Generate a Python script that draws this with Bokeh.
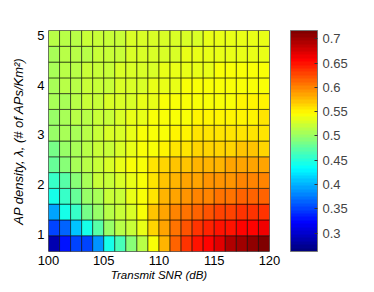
import numpy as np
from bokeh.plotting import figure
from bokeh.models import (LinearColorMapper, ColorBar, FixedTicker, ColumnDataSource, Range1d)
from bokeh.embed import file_html
from bokeh.resources import INLINE

# ---- data ----
snr_edges = [100, 101, 102, 103, 104, 105, 106, 107, 108, 109, 110,
             111, 112, 113, 114, 115, 116, 117, 118, 119, 120]
density_edges = [0.65, 0.968, 1.286, 1.604, 1.921, 2.239, 2.557, 2.875,
                 3.193, 3.511, 3.829, 4.146, 4.464, 4.782, 5.10]

# rows from bottom (low density) to top (high density); 20 SNR columns each
row_00 = [0.290, 0.326, 0.348, 0.352, 0.387, 0.440, 0.467, 0.495, 0.512, 0.542,
          0.576, 0.615, 0.637, 0.649, 0.660, 0.674, 0.690, 0.699, 0.704, 0.715]
row_01 = [0.350, 0.362, 0.410, 0.440, 0.470, 0.500, 0.517, 0.525, 0.537, 0.562,
          0.585, 0.608, 0.624, 0.632, 0.644, 0.648, 0.652, 0.656, 0.659, 0.662]
row_02 = [0.393, 0.440, 0.460, 0.485, 0.500, 0.514, 0.524, 0.530, 0.542, 0.569,
          0.585, 0.600, 0.608, 0.615, 0.620, 0.625, 0.628, 0.632, 0.635, 0.637]
row_03 = [0.440, 0.460, 0.480, 0.500, 0.510, 0.518, 0.525, 0.535, 0.543, 0.560,
          0.575, 0.585, 0.592, 0.600, 0.603, 0.606, 0.610, 0.613, 0.615, 0.617]
row_04 = [0.455, 0.475, 0.495, 0.510, 0.518, 0.524, 0.530, 0.537, 0.546, 0.558,
          0.568, 0.575, 0.582, 0.587, 0.590, 0.593, 0.595, 0.597, 0.600, 0.601]
row_05 = [0.480, 0.495, 0.508, 0.517, 0.522, 0.527, 0.533, 0.540, 0.546, 0.555,
          0.562, 0.568, 0.572, 0.576, 0.579, 0.581, 0.584, 0.585, 0.587, 0.589]
row_06 = [0.486, 0.497, 0.506, 0.515, 0.520, 0.525, 0.530, 0.537, 0.541, 0.544,
          0.547, 0.556, 0.558, 0.561, 0.565, 0.566, 0.567, 0.569, 0.568, 0.567]
row_07 = [0.500, 0.505, 0.510, 0.517, 0.522, 0.526, 0.532, 0.537, 0.540, 0.543,
          0.545, 0.547, 0.552, 0.554, 0.556, 0.554, 0.556, 0.557, 0.556, 0.557]
row_08 = [0.500, 0.507, 0.512, 0.517, 0.522, 0.524, 0.530, 0.534, 0.537, 0.540,
          0.542, 0.545, 0.546, 0.547, 0.548, 0.549, 0.550, 0.551, 0.552, 0.554]
row_09 = [0.505, 0.510, 0.514, 0.519, 0.522, 0.526, 0.530, 0.532, 0.535, 0.538,
          0.540, 0.542, 0.543, 0.544, 0.545, 0.546, 0.546, 0.547, 0.547, 0.547]
row_10 = [0.507, 0.512, 0.516, 0.519, 0.522, 0.524, 0.528, 0.530, 0.532, 0.535,
          0.537, 0.539, 0.540, 0.541, 0.542, 0.542, 0.543, 0.543, 0.544, 0.544]
row_11 = [0.507, 0.512, 0.515, 0.518, 0.521, 0.523, 0.526, 0.528, 0.530, 0.532,
          0.534, 0.536, 0.537, 0.538, 0.539, 0.540, 0.540, 0.541, 0.541, 0.542]
row_12 = [0.509, 0.512, 0.515, 0.517, 0.520, 0.521, 0.524, 0.526, 0.528, 0.529,
          0.530, 0.532, 0.534, 0.535, 0.536, 0.537, 0.538, 0.538, 0.539, 0.539]
row_13 = [0.512, 0.515, 0.517, 0.520, 0.521, 0.523, 0.524, 0.526, 0.528, 0.529,
          0.530, 0.530, 0.532, 0.532, 0.534, 0.535, 0.536, 0.537, 0.537, 0.538]
rows = [row_00, row_01, row_02, row_03, row_04, row_05, row_06,
        row_07, row_08, row_09, row_10, row_11, row_12, row_13]

x_ticks = [100, 105, 110, 115, 120]
y_ticks = [1, 2, 3, 4, 5]
cbar_ticks = [0.3, 0.35, 0.4, 0.45, 0.5, 0.55, 0.6, 0.65, 0.7]
cbar_labels = ["0.3", "0.35", "0.4", "0.45", "0.5", "0.55", "0.6", "0.65", "0.7"]
c_low, c_high = 0.262, 0.717

# ---- jet palette (64 steps) ----
def jet(n=64):
    cols = []
    for i in range(n):
        t = i / (n - 1)
        r = min(max(1.5 - abs(4 * t - 3), 0), 1)
        g = min(max(1.5 - abs(4 * t - 2), 0), 1)
        b = min(max(1.5 - abs(4 * t - 1), 0), 1)
        cols.append("#%02x%02x%02x" % (int(round(r * 255)), int(round(g * 255)), int(round(b * 255))))
    return cols

palette = jet(64)
mapper = LinearColorMapper(palette=palette, low=c_low, high=c_high)

left, right, bottom, top, val = [], [], [], [], []
for i, row in enumerate(rows):
    for j, v in enumerate(row):
        left.append(snr_edges[j]); right.append(snr_edges[j + 1])
        bottom.append(density_edges[i]); top.append(density_edges[i + 1])
        val.append(v)
src = ColumnDataSource(dict(left=left, right=right, bottom=bottom, top=top, val=val))

FONT = "Liberation Sans"

p = figure(width=360, height=286, output_backend="svg", toolbar_location=None,
           x_range=Range1d(snr_edges[0], snr_edges[-1]),
           y_range=Range1d(density_edges[0], density_edges[-1]),
           min_border_left=48, min_border_top=30, min_border_bottom=35, min_border_right=91)
p.quad(left="left", right="right", bottom="bottom", top="top", source=src,
       fill_color={"field": "val", "transform": mapper},
       line_color="black", line_alpha=0.55, line_width=1)

p.grid.visible = False
p.outline_line_color = "#888888"
p.xaxis.ticker = FixedTicker(ticks=x_ticks)
p.yaxis.ticker = FixedTicker(ticks=y_ticks)
for ax in (p.xaxis, p.yaxis):
    ax.axis_line_color = None
    ax.major_tick_line_color = None
    ax.minor_tick_line_color = None
    ax.major_tick_out = 0
    ax.major_tick_in = 0
    ax.minor_tick_out = 0
    ax.minor_tick_in = 0
    ax.major_label_text_font = FONT
    ax.major_label_text_font_size = "13px"
    ax.major_label_text_color = "black"
    ax.axis_label_text_font = FONT
    ax.axis_label_text_font_style = "italic"
    ax.axis_label_text_color = "black"
p.xaxis.axis_label_text_font_size = "11.5px"
p.yaxis.axis_label_text_font_size = "13px"
p.xaxis.axis_label = "Transmit SNR (dB)"
p.yaxis.axis_label = "AP density, \u03bb, (# of APs/Km\u00b2)"
p.xaxis.major_label_standoff = 4
p.xaxis.axis_label_standoff = 1
p.yaxis.major_label_standoff = 4
p.yaxis.axis_label_standoff = 8

cb = ColorBar(color_mapper=mapper, ticker=FixedTicker(ticks=cbar_ticks),
              major_label_overrides={t: l for t, l in zip(cbar_ticks, cbar_labels)},
              width=27, height=221, padding=0, margin=0, location=(21, 0),
              label_standoff=5, major_label_text_font=FONT, major_label_text_font_size="13px",
              major_tick_line_color="#333333", major_tick_in=3, major_tick_out=0,
              bar_line_color="#777777", border_line_color=None, background_fill_color=None)
p.add_layout(cb, "right")

open("out.html", "w").write(file_html(p, INLINE))
